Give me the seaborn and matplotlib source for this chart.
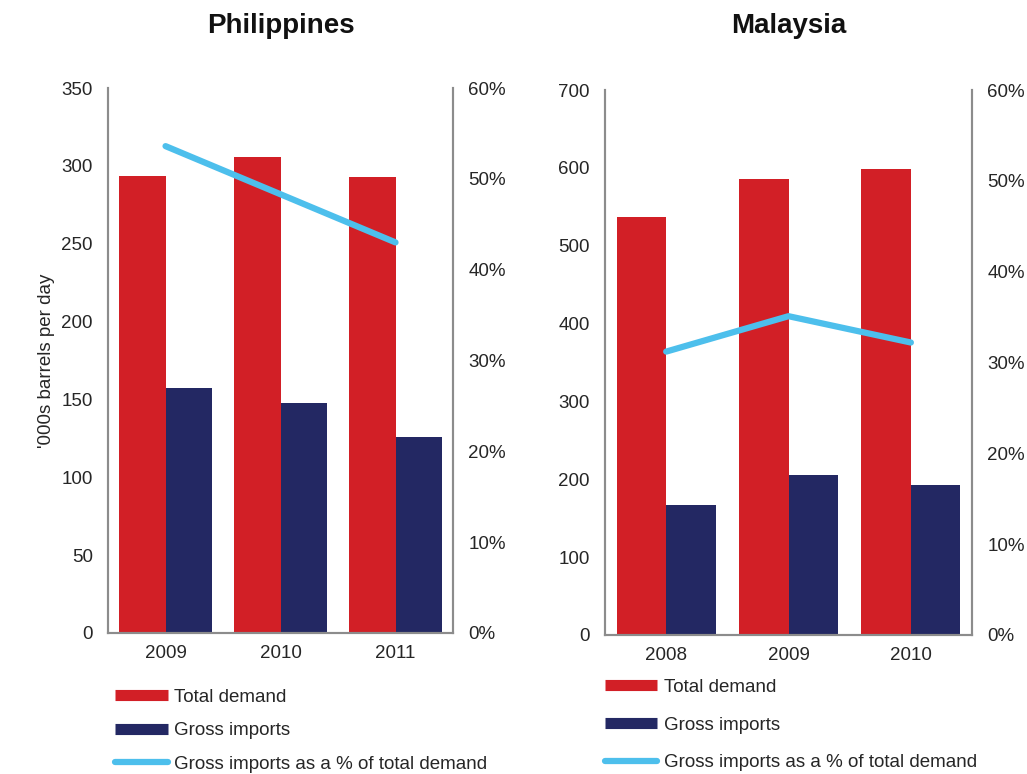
import numpy as np
import pandas as pd
import matplotlib
matplotlib.use("Agg")
import matplotlib.pyplot as plt
from matplotlib.lines import Line2D
from matplotlib.ticker import FuncFormatter
import seaborn as sns

# --- data ---
ph_years = ["2009", "2010", "2011"]
ph_demand = [293.5, 305.7, 293.0]
ph_imports = [157.4, 147.7, 125.9]
ph_pct = [53.6, 48.3, 43.0]

my_years = ["2008", "2009", "2010"]
my_demand = [537.0, 585.7, 598.5]
my_imports = [167.0, 205.5, 192.7]
my_pct = [31.2, 35.1, 32.2]

series_names = ["Total demand", "Gross imports"]
line_name = "Gross imports as a % of total demand"

RED = "#D21F26"
NAVY = "#232863"
BLUE = "#4DBFEC"
GREY = "#8C8C8C"
TXT = "#262626"

sns.set_style("white")
plt.rcParams["font.family"] = ["Liberation Sans", "DejaVu Sans"]
plt.rcParams["text.color"] = TXT

fig = plt.figure(figsize=(10.27, 7.74), dpi=100)


def long_df(years, demand, imports):
    return pd.DataFrame({
        "year": years * 2,
        "value": demand + imports,
        "series": [series_names[0]] * len(years) + [series_names[1]] * len(years),
    })


def panel(rect, years, demand, imports, pct, ymax, ystep, title, leg_xy, leg_sp):
    ax = fig.add_axes(rect)
    df = long_df(years, demand, imports)
    sns.barplot(data=df, x="year", y="value", hue="series", order=years,
                hue_order=series_names, palette=[RED, NAVY], width=0.81,
                saturation=1, linewidth=0, ax=ax, legend=False)
    ax.set_xlim(-0.5, len(years) - 0.5)
    ax.set_ylim(0, ymax)
    ax.set_yticks(np.arange(0, ymax + 1, ystep))
    ax.set_xlabel("")
    ax.set_ylabel("")

    # share of imports on a second axis
    ax2 = ax.twinx()
    sns.lineplot(x=np.arange(len(years)), y=pct, ax=ax2, color=BLUE, lw=4.5,
                 solid_capstyle="round")
    ax2.set_ylim(0, 60)
    ax2.set_yticks(np.arange(0, 61, 10))
    ax2.yaxis.set_major_formatter(FuncFormatter(lambda v, p: f"{v:.0f}%"))

    for a in (ax, ax2):
        a.spines["top"].set_visible(False)
        for s in ("left", "right", "bottom"):
            a.spines[s].set_color(GREY)
            a.spines[s].set_linewidth(1.5)
        a.tick_params(length=0, labelsize=13.5, colors=TXT, pad=11)
    ax.tick_params(axis="x", pad=9)

    cx = rect[0] + rect[2] / 2
    fig.text(cx, 0.967, title, ha="center", va="center", fontsize=20,
             fontweight="bold", color="#111111")

    handles = [Line2D([], [], color=RED, lw=8, solid_capstyle="butt"),
               Line2D([], [], color=NAVY, lw=8, solid_capstyle="butt"),
               Line2D([], [], color=BLUE, lw=4.5, solid_capstyle="round")]
    fig.legend(handles, series_names + [line_name], loc="upper left",
               bbox_to_anchor=leg_xy, bbox_transform=fig.transFigure,
               frameon=False, fontsize=13.5, handlelength=2.8,
               handletextpad=0.35, labelspacing=leg_sp, borderpad=0,
               borderaxespad=0)
    return ax


axL = panel([0.1052, 0.1822, 0.3359, 0.7041], ph_years, ph_demand, ph_imports,
            ph_pct, 350, 50, "Philippines", (0.112, 0.110), 0.87)
axL.set_ylabel("'000s barrels per day", fontsize=13.5, color=TXT)
axL.yaxis.set_label_coords(-0.155, 0.5)

panel([0.5891, 0.1796, 0.3574, 0.7041], my_years, my_demand, my_imports,
      my_pct, 700, 100, "Malaysia", (0.589, 0.123), 1.1)

fig.savefig("out.png", dpi=100)
